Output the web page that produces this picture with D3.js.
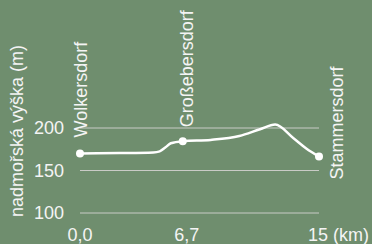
<!DOCTYPE html>
<html>
<head>
<meta charset="utf-8">
<script src="https://cdn.jsdelivr.net/npm/d3@7"></script>
<style>
  html, body { margin: 0; padding: 0; background: #6f8e6e; }
  svg text { font-family: "Liberation Sans", Arial, sans-serif; fill: #f4f4f4; }
</style>
</head>
<body>
<div id="chart"></div>
<script>
// elevation profile (km, m)
var profileKm   = [0, 2.5, 4.6, 5.0, 5.35, 5.7, 6.45, 8.2, 10.0, 11.3, 12.25, 13.4, 14.2, 15];
var profileElev = [170, 170.5, 171.3, 172.5, 177, 182, 184.5, 186, 190.5, 198.5, 204, 188, 176, 166.5];

// stations
var stationNames = ["Wolkersdorf", "Großebersdorf", "Stammersdorf"];
var stationKm    = [0, 6.45, 15];
var stationElev  = [170, 184.5, 166.5];

var yTicks = [100, 150, 200];
var xTicks = [0, 6.7, 15];
var xTickLabels = ["0,0", "6,7", "15 (km)"];

var width = 372, height = 244;

var svg = d3.select('#chart')
    .append('svg')
    .attr('width', width)
    .attr('height', height);

var x = d3.scaleLinear().domain([0, 15]).range([80, 319]);
var y = d3.scaleLinear().domain([100, 200]).range([213, 128]);

// grid lines
svg.append('g')
    .selectAll('line')
    .data(yTicks)
    .enter().append('line')
    .attr('x1', x(0))
    .attr('x2', x(15))
    .attr('y1', function(d) { return y(d); })
    .attr('y2', function(d) { return y(d); })
    .attr('stroke', '#c9cbc6')
    .attr('stroke-width', 1);

// y tick labels
svg.append('g')
    .selectAll('text')
    .data(yTicks)
    .enter().append('text')
    .attr('x', 64)
    .attr('y', function(d) { return y(d); })
    .attr('dy', '0.35em')
    .attr('text-anchor', 'end')
    .style('font-size', '18px')
    .text(function(d) { return d; });

// x tick labels
svg.append('g')
    .selectAll('text')
    .data(xTicks)
    .enter().append('text')
    .attr('x', function(d, i) { return i == 2 ? x(d) - 11 : x(d); })
    .attr('y', 241)
    .attr('text-anchor', function(d, i) { return i == 2 ? 'start' : 'middle'; })
    .style('font-size', '18px')
    .text(function(d, i) { return xTickLabels[i]; });

// axis title
svg.append('text')
    .attr('transform', 'translate(23,' + 131 + ') rotate(-90)')
    .attr('text-anchor', 'middle')
    .style('font-size', '18px')
    .text('nadmořská výška (m)');

// profile line
var line = d3.line()
    .x(function(d) { return x(d[0]); })
    .y(function(d) { return y(d[1]); })
    .curve(d3.curveMonotoneX);

svg.append('path')
    .datum(d3.zip(profileKm, profileElev))
    .attr('d', line)
    .attr('fill', 'none')
    .attr('stroke', '#ffffff')
    .attr('stroke-width', 2.5);

// station dots
svg.append('g')
    .selectAll('circle')
    .data(stationKm)
    .enter().append('circle')
    .attr('cx', function(d) { return x(d); })
    .attr('cy', function(d, i) { return y(stationElev[i]); })
    .attr('r', 4)
    .attr('fill', '#ffffff');

// station labels (rotated)
var labelShift = [[7, -16], [10, -14], [24, 23]];
svg.append('g')
    .selectAll('text')
    .data(stationNames)
    .enter().append('text')
    .attr('transform', function(d, i) {
        var lx = x(stationKm[i]) + labelShift[i][0];
        var ly = y(stationElev[i]) + labelShift[i][1];
        return 'translate(' + lx + ',' + ly + ') rotate(-90)';
    })
    .style('font-size', '18px')
    .text(function(d) { return d; });
</script>
</body>
</html>
